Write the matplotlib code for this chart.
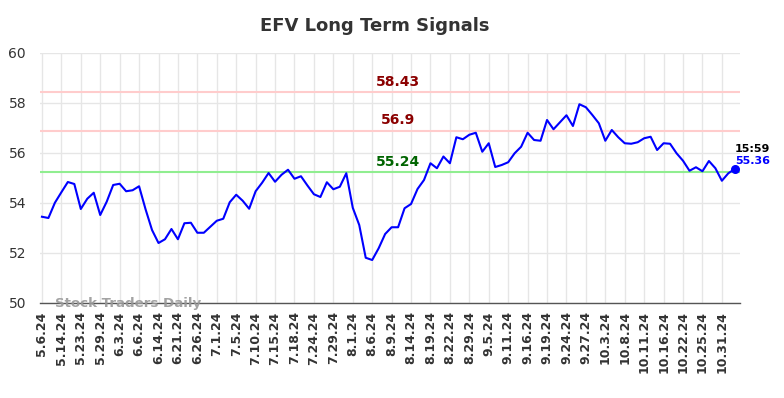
import matplotlib
matplotlib.use("Agg")
import matplotlib.pyplot as plt

tick_labels = ["5.6.24", "5.14.24", "5.23.24", "5.29.24", "6.3.24", "6.6.24", "6.14.24",
               "6.21.24", "6.26.24", "7.1.24", "7.5.24", "7.10.24", "7.15.24", "7.18.24",
               "7.24.24", "7.29.24", "8.1.24", "8.6.24", "8.9.24", "8.14.24", "8.19.24",
               "8.22.24", "8.29.24", "9.5.24", "9.11.24", "9.16.24", "9.19.24", "9.24.24",
               "9.27.24", "10.3.24", "10.8.24", "10.11.24", "10.16.24", "10.22.24",
               "10.25.24", "10.31.24"]
tick_step = 3

prices = [53.45, 53.40, 54.01, 54.43, 54.84, 54.76, 53.76, 54.17, 54.41, 53.52,
          54.05, 54.72, 54.77, 54.47, 54.51, 54.67, 53.75, 52.92, 52.40, 52.55,
          52.96, 52.55, 53.19, 53.21, 52.81, 52.81, 53.05, 53.29, 53.37, 54.03,
          54.33, 54.09, 53.77, 54.47, 54.81, 55.20, 54.85, 55.13, 55.33, 54.97,
          55.07, 54.70, 54.35, 54.24, 54.83, 54.55, 54.65, 55.19, 53.81, 53.12,
          51.81, 51.72, 52.19, 52.76, 53.03, 53.03, 53.79, 53.96, 54.56, 54.92,
          55.59, 55.39, 55.86, 55.59, 56.63, 56.55, 56.73, 56.81, 56.05, 56.39,
          55.44, 55.52, 55.63, 55.99, 56.25, 56.81, 56.52, 56.49, 57.32, 56.95,
          57.23, 57.51, 57.08, 57.95, 57.83, 57.52, 57.19, 56.49, 56.92, 56.63,
          56.39, 56.37, 56.43, 56.59, 56.65, 56.12, 56.39, 56.37, 55.99, 55.69,
          55.29, 55.43, 55.27, 55.68, 55.39, 54.89, 55.19, 55.36]

upper_levels = [58.43, 56.9]
lower_level = 55.24
last_time = "15:59"
title = "EFV Long Term Signals"
watermark = "Stock Traders Daily"

fig = plt.figure(figsize=(7.84, 3.98), dpi=100)
ax = fig.add_axes([40/784, 1-303/398, 700/784, 250/398])

x = list(range(len(prices)))
ax.plot(x, prices, color="#0000ff", lw=1.5, zorder=3)
ax.scatter([x[-1]], [prices[-1]], color="#0000ff", s=30, zorder=4)

for lv in upper_levels:
    ax.axhline(lv, color="#ffcccc", lw=1.5, zorder=2)
ax.axhline(lower_level, color="#90ee90", lw=1.5, zorder=2)

label_x = 55
for lv in upper_levels:
    ax.text(label_x, lv + 0.12, f"{lv:g}", color="#8b0000", fontsize=10,
            fontweight="bold", ha="center", va="bottom", zorder=5)
ax.text(label_x, lower_level + 0.12, f"{lower_level:g}", color="#006400", fontsize=10,
        fontweight="bold", ha="center", va="bottom", zorder=5)

ax.text(x[-1], prices[-1] + 0.6, last_time, color="black", fontsize=8,
        fontweight="bold", ha="left", va="bottom", zorder=5)
ax.text(x[-1], prices[-1] + 0.1, f"{prices[-1]:g}", color="#0000ff", fontsize=8,
        fontweight="bold", ha="left", va="bottom", zorder=5)

ax.text(2, 50.0, watermark, color="#999999", fontsize=9.6, fontweight="bold",
        ha="left", va="center", alpha=0.9, zorder=5)

ax.set_xlim(-0.3, 107.8)
ax.set_ylim(50, 60)
ax.set_yticks([50, 52, 54, 56, 58, 60])
ticks = [i * tick_step for i in range(len(tick_labels))]
ax.set_xticks(ticks)
ax.set_xticklabels(tick_labels, rotation=90, fontsize=9, fontweight="bold", color="#333333")
ax.tick_params(axis="y", labelsize=10, labelcolor="#333333", length=0, pad=10)
ax.tick_params(axis="x", length=0, pad=6)
ax.grid(True, color="#e6e6e6", lw=1)
ax.set_axisbelow(True)
for s in ["top", "right", "left"]:
    ax.spines[s].set_visible(False)
ax.spines["bottom"].set_color("#555555")
ax.spines["bottom"].set_linewidth(1)

fig.text(375/784, 1-26/398, title, ha="center", va="center", fontsize=13,
         fontweight="bold", color="#333333")

fig.savefig("out.png", dpi=100)
